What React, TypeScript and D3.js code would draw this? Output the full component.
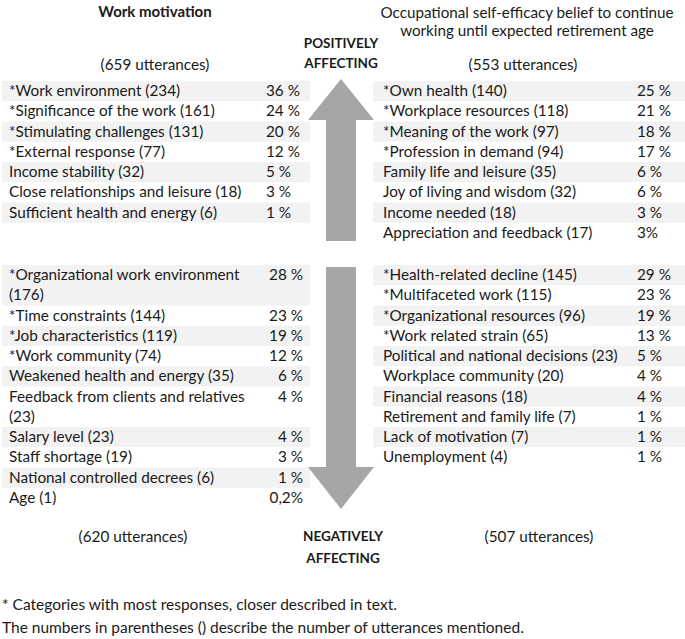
import React, { useEffect, useRef } from "react";
import * as d3 from "d3";

// Work motivation, positively affecting
const wmPosLabels = ["Work environment", "Significance of the work", "Stimulating challenges", "External response", "Income stability", "Close relationships and leisure", "Sufficient health and energy"];
const wmPosCounts = [234, 161, 131, 77, 32, 18, 6];
const wmPosPct = ["36 %", "24 %", "20 %", "12 %", "5 %", "3 %", "1 %"];
const wmPosStar = [true, true, true, true, false, false, false];

// Work motivation, negatively affecting
const wmNegLabels = ["Organizational work environment", "Time constraints", "Job characteristics", "Work community", "Weakened health and energy", "Feedback from clients and relatives", "Salary level", "Staff shortage", "National controlled decrees", "Age"];
const wmNegCounts = [176, 144, 119, 74, 35, 23, 23, 19, 6, 1];
const wmNegPct = ["28 %", "23 %", "19 %", "12 %", "6 %", "4 %", "4 %", "3 %", "1 %", "0,2%"];
const wmNegStar = [true, true, true, true, false, false, false, false, false, false];

// Self-efficacy, positively affecting
const sePosLabels = ["Own health", "Workplace resources", "Meaning of the work", "Profession in demand", "Family life and leisure", "Joy of living and wisdom", "Income needed", "Appreciation and feedback"];
const sePosCounts = [140, 118, 97, 94, 35, 32, 18, 17];
const sePosPct = ["25 %", "21 %", "18 %", "17 %", "6 %", "6 %", "3 %", "3%"];
const sePosStar = [true, true, true, true, false, false, false, false];

// Self-efficacy, negatively affecting
const seNegLabels = ["Health-related decline", "Multifaceted work", "Organizational resources", "Work related strain", "Political and national decisions", "Workplace community", "Financial reasons", "Retirement and family life", "Lack of motivation", "Unemployment"];
const seNegCounts = [145, 115, 96, 65, 23, 20, 18, 7, 7, 4];
const seNegPct = ["29 %", "23 %", "19 %", "13 %", "5 %", "4 %", "4 %", "1 %", "1 %", "1 %"];
const seNegStar = [true, true, true, true, false, false, false, false, false, false];

const utterances = { wmPos: 659, wmNeg: 620, sePos: 553, seNeg: 507 };

const W = 685;
const H = 639;
const FONT = "Lato, 'Liberation Sans', Arial, sans-serif";
const FS = 15.3;
const ROW = 20.25;

const App = () => {
    const svgRef = useRef<SVGSVGElement>(null);

    useEffect(() => {
        const svg = d3.select(svgRef.current);
        svg.selectAll("*").remove();
        const g = svg.append("g").style("font-family", FONT).attr("fill", "#1a1a1a");

        // line units -> pixels
        const yUnit = d3.scaleLinear().domain([0, 1]).range([0, ROW]);

        const drawTable = (
            labels: string[], counts: number[], pct: string[], star: boolean[],
            o: { x0: number; x1: number; y0: number; textX: number; pctX: number; anchor: string; maxW: number }
        ) => {
            const t = g.append("g");
            let line = 0;
            labels.forEach((lab, i) => {
                const full = `${star[i] ? "*" : ""}${lab} (${counts[i]})`;
                // measure to decide wrapping
                const probe = t.append("text").style("font-size", FS + "px").text(full);
                const w = (probe.node() as SVGTextElement).getComputedTextLength();
                probe.remove();
                const lines = w > o.maxW ? [`${star[i] ? "*" : ""}${lab}`, `(${counts[i]})`] : [full];
                const top = o.y0 + yUnit(line);
                const h = yUnit(lines.length);
                if (i % 2 === 0) {
                    t.append("rect")
                        .attr("x", o.x0).attr("y", top)
                        .attr("width", o.x1 - o.x0).attr("height", h)
                        .attr("fill", "#f2f2f2");
                }
                lines.forEach((s, k) => {
                    t.append("text")
                        .attr("x", o.textX).attr("y", top + yUnit(k) + 15)
                        .style("font-size", FS + "px").text(s);
                });
                t.append("text")
                    .attr("x", o.pctX).attr("y", top + 15)
                    .attr("text-anchor", o.anchor)
                    .style("font-size", FS + "px").text(pct[i]);
                line += lines.length;
            });
        };

        drawTable(wmPosLabels, wmPosCounts, wmPosPct, wmPosStar,
            { x0: 2, x1: 310, y0: 81, textX: 9, pctX: 266, anchor: "start", maxW: 252 });
        drawTable(wmNegLabels, wmNegCounts, wmNegPct, wmNegStar,
            { x0: 2, x1: 310, y0: 265, textX: 9, pctX: 303, anchor: "end", maxW: 252 });
        drawTable(sePosLabels, sePosCounts, sePosPct, sePosStar,
            { x0: 373, x1: 685, y0: 81, textX: 383, pctX: 637, anchor: "start", maxW: 252 });
        drawTable(seNegLabels, seNegCounts, seNegPct, seNegStar,
            { x0: 373, x1: 685, y0: 265, textX: 383, pctX: 637, anchor: "start", maxW: 252 });

        // Arrows
        const cx = 341;
        const arrowFill = "#a6a6a6";
        const up = d3.path();
        up.moveTo(cx, 79); up.lineTo(cx + 33, 120); up.lineTo(cx + 15, 120);
        up.lineTo(cx + 15, 241); up.lineTo(cx - 15, 241); up.lineTo(cx - 15, 120);
        up.lineTo(cx - 33, 120); up.closePath();
        g.append("path").attr("d", up.toString()).attr("fill", arrowFill);
        const down = d3.path();
        down.moveTo(cx - 15, 267); down.lineTo(cx + 15, 267); down.lineTo(cx + 15, 467);
        down.lineTo(cx + 33, 467); down.lineTo(cx, 509); down.lineTo(cx - 33, 467);
        down.lineTo(cx - 15, 467); down.closePath();
        g.append("path").attr("d", down.toString()).attr("fill", arrowFill);

        const txt = (x: number, y: number, s: string, opts: any = {}) =>
            g.append("text").attr("x", x).attr("y", y)
                .attr("text-anchor", opts.anchor || "middle")
                .attr("font-weight", opts.bold ? "bold" : "normal")
                .style("font-size", (opts.size || FS) + "px")
                .text(s);

        // Headers
        txt(155, 17, "Work motivation", { bold: true, size: 15 });
        txt(527, 18, "Occupational self-efficacy belief to continue", { size: 15.2 });
        txt(527, 36, "working until expected retirement age", { size: 15.2 });
        txt(155, 70, `(${utterances.wmPos} utterances)`);
        txt(523, 70, `(${utterances.sePos} utterances)`);
        txt(341, 48, "POSITIVELY", { bold: true, size: 13.5 });
        txt(341, 68, "AFFECTING", { bold: true, size: 13.5 });

        // Bottom
        txt(133, 542, `(${utterances.wmNeg} utterances)`);
        txt(539, 542, `(${utterances.seNeg} utterances)`);
        txt(343, 541, "NEGATIVELY", { bold: true, size: 13.5 });
        txt(343, 563, "AFFECTING", { bold: true, size: 13.5 });

        // Footnotes
        txt(2, 610, "* Categories with most responses, closer described in text.", { anchor: "start", size: 15.5 });
        txt(2, 633, "The numbers in parentheses () describe the number of utterances mentioned.", { anchor: "start", size: 15.5 });
    }, []);

    return (
        <div style={{ position: "absolute", left: 0, top: 0, width: W, height: H, background: "#fff" }}>
            <svg ref={svgRef} width={W} height={H} style={{ display: "block" }}></svg>
        </div>
    );
};

export default App;
